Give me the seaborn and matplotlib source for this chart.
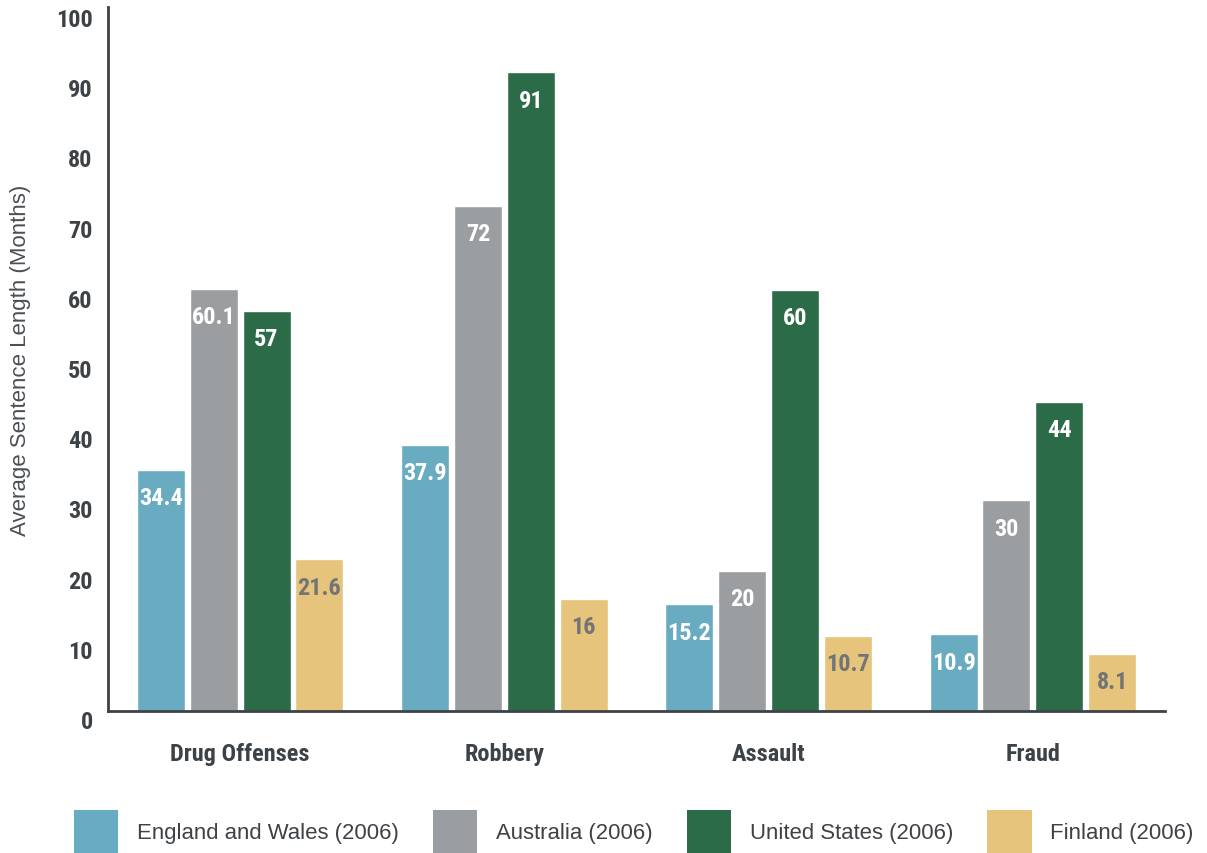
import numpy as np
import pandas as pd
import matplotlib
matplotlib.use("Agg")
import matplotlib.pyplot as plt
import matplotlib.transforms as mtransforms
from matplotlib.patches import Patch
import seaborn as sns

# data
crimes = ["Drug Offenses", "Robbery", "Assault", "Fraud"]
countries = ["England and Wales (2006)", "Australia (2006)", "United States (2006)", "Finland (2006)"]
england = [34.4, 37.9, 15.2, 10.9]
australia = [60.1, 72, 20, 30]
usa = [57, 91, 60, 44]
finland = [21.6, 16, 10.7, 8.1]
value_labels = {
    countries[0]: ["34.4", "37.9", "15.2", "10.9"],
    countries[1]: ["60.1", "72", "20", "30"],
    countries[2]: ["57", "91", "60", "44"],
    countries[3]: ["21.6", "16", "10.7", "8.1"],
}
yticks = list(range(0, 101, 10))

colors = ["#69abc0", "#9b9ea0", "#2b6b47", "#e6c47b"]
label_colors = ["white", "white", "white", "#727476"]
dark = "#3d4247"

rows = []
for name, vals in zip(countries, [england, australia, usa, finland]):
    for c, v in zip(crimes, vals):
        rows.append({"crime": c, "country": name, "value": v})
df = pd.DataFrame(rows)

sns.set_style("white")
cond = ["Roboto Condensed", "Archivo Narrow", "Asap Condensed", "DejaVu Sans"]
plt.rcParams["font.family"] = ["Liberation Sans", "Arimo", "DejaVu Sans"]

fig = plt.figure(figsize=(12.07, 8.54), dpi=100)
ax = fig.add_axes([108 / 1207, 1 - 712 / 854, (1165 - 108) / 1207, 704 / 854])

sns.barplot(data=df, x="crime", y="value", hue="country", hue_order=countries,
            palette=colors, saturation=1, width=0.8, gap=0.09, legend=False, ax=ax)

ax.set_xlim(-0.5, 3.5)
ax.set_ylim(0, 100.3)
ax.set_yticks(yticks)
ax.set_yticklabels([str(t) for t in yticks], fontfamily=cond, fontweight="bold",
                   fontsize=17.5, color=dark)
ax.set_xticks(range(len(crimes)))
ax.set_xticklabels(crimes, fontfamily=cond, fontweight="bold", fontsize=17.5, color=dark)
ax.tick_params(axis="y", length=0, pad=11)
ax.tick_params(axis="x", length=0, pad=22)

# tick labels sit a little below their gridline position in the original
shift = mtransforms.ScaledTranslation(0, -8 / 100, fig.dpi_scale_trans)
for lab in ax.get_yticklabels():
    lab.set_transform(lab.get_transform() + shift)

ax.set_xlabel("")
ax.set_ylabel("Average Sentence Length (Months)", fontsize=16, color="#4a4f55")
ax.yaxis.set_label_coords(-0.073, 0.5, transform=ax.transAxes)

for s in ["top", "right"]:
    ax.spines[s].set_visible(False)
for s in ["left", "bottom"]:
    ax.spines[s].set_color(dark)
    ax.spines[s].set_linewidth(2)
    ax.spines[s].set_zorder(5)

for cont, name, lc in zip(ax.containers, countries, label_colors):
    for bar, txt in zip(cont, value_labels[name]):
        ax.annotate(txt, (bar.get_x() + bar.get_width() / 2, bar.get_height()),
                    xytext=(0, -20), textcoords="offset points", ha="center", va="center",
                    fontfamily=cond, fontweight="bold", fontsize=17.5, color=lc)

handles = [Patch(facecolor=c, edgecolor="none") for c in colors]
fig.legend(handles, countries, loc="lower left", bbox_to_anchor=(74 / 1207, 0.0),
           ncol=4, frameon=False, fontsize=15.9, handlelength=2.0, handleheight=2.6,
           handletextpad=0.85, columnspacing=1.55, borderpad=0, borderaxespad=0,
           labelcolor="#3d4247")

fig.savefig("out.png", dpi=100)
